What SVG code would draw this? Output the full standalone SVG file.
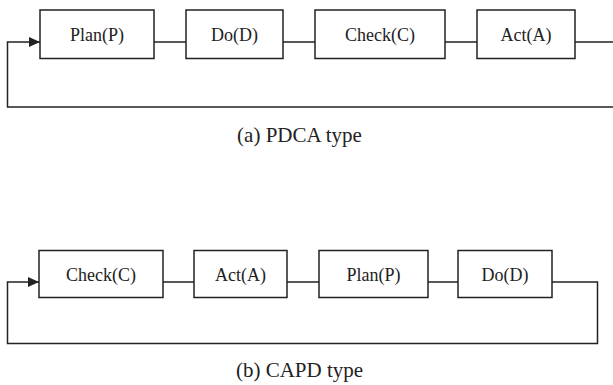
<svg xmlns="http://www.w3.org/2000/svg" width="613" height="385" viewBox="0 0 613 385">
<style>
.box{fill:#fff;stroke:#222;stroke-width:1.5}
.lbl{font-family:"Liberation Serif",serif;font-size:18px;fill:#222;text-anchor:middle}
.cap{font-family:"Liberation Serif",serif;font-size:21px;fill:#222;text-anchor:middle}
.ln{fill:none;stroke:#222;stroke-width:1.5}
</style>
<defs>
<marker id="arr" markerWidth="11" markerHeight="10" refX="11" refY="5" orient="auto" markerUnits="userSpaceOnUse">
<path d="M0,0 L11,5 L0,10 Z" fill="#222"/>
</marker>
</defs>
<g id="connectors">
<path class="ln" d="M154,42 H186"/>
<path class="ln" d="M283,42 H315"/>
<path class="ln" d="M445,42 H477"/>
<path class="ln" d="M575,42 H613"/>
<path class="ln" d="M613,107 H7.5 V42 H40" marker-end="url(#arr)"/>
<path class="ln" d="M163,282 H194"/>
<path class="ln" d="M287,282 H319"/>
<path class="ln" d="M428,282 H458"/>
<path class="ln" d="M552,282 H597.5 V343.5 H7.5 V282 H39" marker-end="url(#arr)"/>
</g>
<g id="a-plan"><rect class="box" x="40" y="10" width="114" height="48.5"/><text class="lbl" x="97" y="40.5">Plan(P)</text></g>
<g id="a-do"><rect class="box" x="186" y="10" width="97" height="48.5"/><text class="lbl" x="234.5" y="40.5">Do(D)</text></g>
<g id="a-check"><rect class="box" x="315" y="10" width="130" height="48.5"/><text class="lbl" x="380" y="40.5">Check(C)</text></g>
<g id="a-act"><rect class="box" x="477" y="10" width="98" height="48.5"/><text class="lbl" x="526" y="40.5">Act(A)</text></g>
<text class="cap" x="299.5" y="142">(a) PDCA type</text>
<g id="b-check"><rect class="box" x="39" y="250.5" width="124" height="47"/><text class="lbl" x="101" y="280.5">Check(C)</text></g>
<g id="b-act"><rect class="box" x="194" y="250.5" width="93" height="47"/><text class="lbl" x="240.5" y="280.5">Act(A)</text></g>
<g id="b-plan"><rect class="box" x="319" y="250.5" width="109" height="47"/><text class="lbl" x="373.5" y="280.5">Plan(P)</text></g>
<g id="b-do"><rect class="box" x="458" y="250.5" width="94" height="47"/><text class="lbl" x="505" y="280.5">Do(D)</text></g>
<text class="cap" x="299.5" y="377">(b) CAPD type</text>
</svg>
